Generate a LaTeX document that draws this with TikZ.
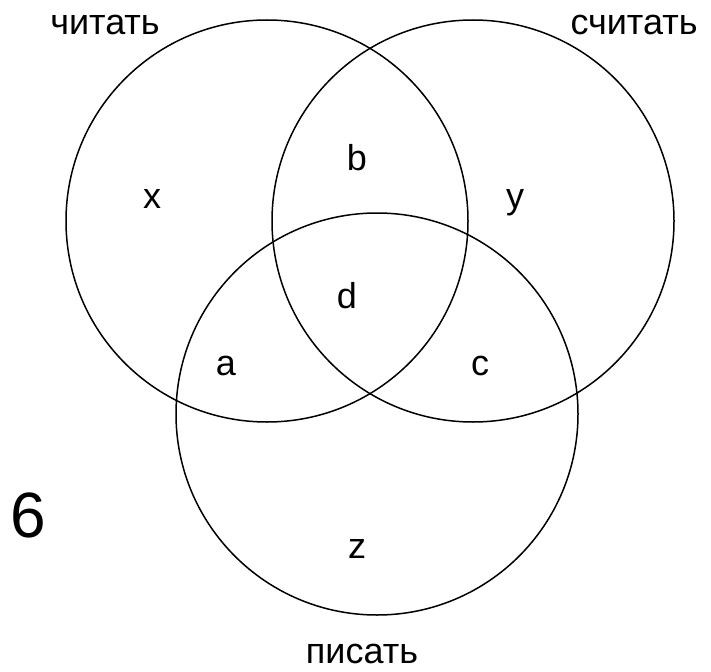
\documentclass[tikz,border=0pt]{standalone}
\usepackage{fontspec}
\setmainfont{Liberation Sans}
\begin{document}
\begin{tikzpicture}[x=1pt,y=-1pt,
  ring/.style={draw=black,line width=1.5pt},
  lbl/.style={anchor=base,inner sep=0pt,font=\fontsize{36}{40}\selectfont},
  big/.style={anchor=base,inner sep=0pt,font=\fontsize{64}{70}\selectfont}]
\useasboundingbox (0,0) rectangle (711,671);
\node[ring,circle,minimum size=402pt,inner sep=0pt] (L) at (267,221) {};
\node[ring,circle,minimum size=402pt,inner sep=0pt] (R) at (473,221) {};
\node[ring,circle,minimum size=402pt,inner sep=0pt] (B) at (377,414) {};
\node[lbl] (tL) at (105,35) {читать};
\node[lbl] (tR) at (634,35) {считать};
\node[lbl] (tB) at (362,663) {писать};
\node[lbl] (x) at (152,208) {x};
\node[lbl] (b) at (357,170) {b};
\node[lbl] (y) at (515,208) {y};
\node[lbl] (d) at (347,308) {d};
\node[lbl] (a) at (226,375) {a};
\node[lbl] (c) at (480,375) {c};
\node[lbl] (z) at (357,558) {z};
\node[big] (six) at (28,537) {6};
\end{tikzpicture}
\end{document}
